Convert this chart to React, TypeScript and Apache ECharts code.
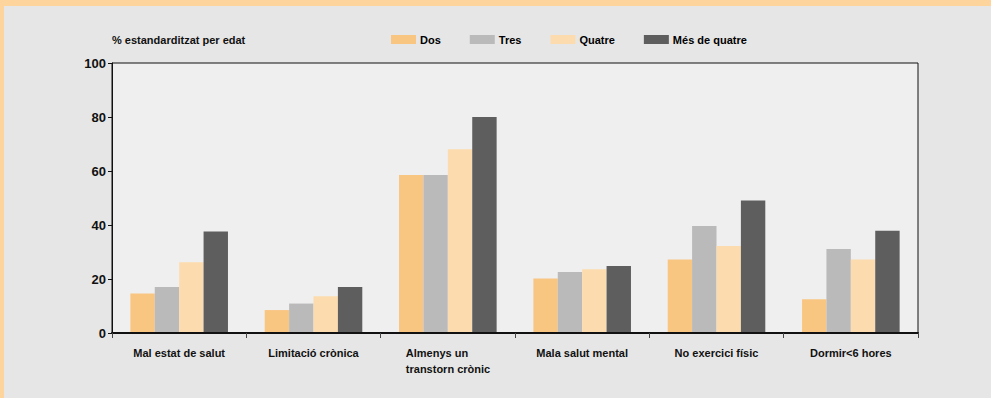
import React, { useEffect, useRef } from "react";
import * as echarts from "echarts";

const categories = [
  "Mal estat de salut",
  "Limitació crònica",
  "Almenys un\ntranstorn crònic",
  "Mala salut mental",
  "No exercici físic",
  "Dormir<6 hores",
];
const seriesNames = ["Dos", "Tres", "Quatre", "Més de quatre"];
const dos = [14.6, 8.5, 58.5, 20.2, 27.2, 12.5];
const tres = [17.0, 10.9, 58.5, 22.6, 39.6, 31.1];
const quatre = [26.2, 13.6, 68.1, 23.6, 32.2, 27.2];
const mesDeQuatre = [37.6, 17.0, 80.0, 24.8, 49.1, 37.9];
const yTicks = [0, 20, 40, 60, 80, 100];
const yTitle = "% estandarditzat per edat";

const colors = ["#f9c682", "#bababa", "#fcdcae", "#5e5e5e"];
const FONT = '"Liberation Sans", Arial, sans-serif';

export default function App() {
  const ref = useRef<HTMLDivElement>(null);
  useEffect(() => {
    if (!ref.current) return;
    const chart = echarts.init(ref.current, null, { renderer: "svg" });
    const values = [dos, tres, quatre, mesDeQuatre];
    chart.setOption({
      animation: false,
      backgroundColor: "#e6e6e6",
      title: {
        text: yTitle,
        left: 112,
        top: 34,
        padding: 0,
        textStyle: { fontFamily: FONT, fontSize: 11, fontWeight: "bold", color: "#111" },
      },
      legend: {
        data: seriesNames,
        left: 391,
        top: 34,
        padding: 0,
        itemWidth: 25,
        itemHeight: 9,
        itemGap: 29,
        icon: "rect",
        textStyle: { fontFamily: FONT, fontSize: 11, fontWeight: "bold", color: "#000", padding: [0, 0, 0, -1] },
      },
      graphic: [
        { type: "rect", shape: { x: 0, y: 0, width: 991, height: 6 }, style: { fill: "#fcd49c" }, silent: true },
        { type: "rect", shape: { x: 0, y: 0, width: 4, height: 398 }, style: { fill: "#fcd49c" }, silent: true },
      ],
      grid: {
        left: 112,
        right: 73,
        top: 63,
        bottom: 65,
        show: true,
        backgroundColor: "#efefef",
        borderColor: "#111",
        borderWidth: 1,
        containLabel: false,
      },
      xAxis: {
        type: "category",
        data: categories,
        z: 5,
        axisLine: { show: true, lineStyle: { color: "#111", width: 2 } },
        axisTick: { show: true, length: 5, lineStyle: { color: "#444" } },
        axisLabel: {
          interval: 0,
          margin: 12,
          fontFamily: FONT,
          fontSize: 11,
          fontWeight: "bold",
          color: "#111",
          lineHeight: 16,
          formatter: (v: string) =>
            v.indexOf("\n") >= 0
              ? v
                  .split("\n")
                  .map((s) => "{l|" + s + "}")
                  .join("\n")
              : v,
          rich: {
            l: {
              width: 84,
              align: "left",
              fontFamily: FONT,
              fontSize: 11,
              fontWeight: "bold",
              color: "#111",
              lineHeight: 16,
            },
          },
        },
      },
      yAxis: {
        type: "value",
        min: yTicks[0],
        max: yTicks[yTicks.length - 1],
        interval: 20,
        z: 5,
        splitLine: { show: false },
        axisLine: { show: true, lineStyle: { color: "#111", width: 1 } },
        axisTick: { show: true, length: 4, lineStyle: { color: "#111" } },
        axisLabel: {
          margin: 6,
          fontFamily: FONT,
          fontSize: 13,
          fontWeight: "bold",
          color: "#111",
        },
      },
      series: seriesNames.map((name, i) => ({
        name,
        type: "bar",
        data: values[i],
        barWidth: 24.4,
        barGap: "0%",
        itemStyle: { color: colors[i] },
      })),
    });
    return () => chart.dispose();
  }, []);
  return (
    <div style={{ position: "fixed", left: 0, top: 0, width: 991, height: 398 }}>
      <div ref={ref} style={{ width: 991, height: 398 }} />
    </div>
  );
}
